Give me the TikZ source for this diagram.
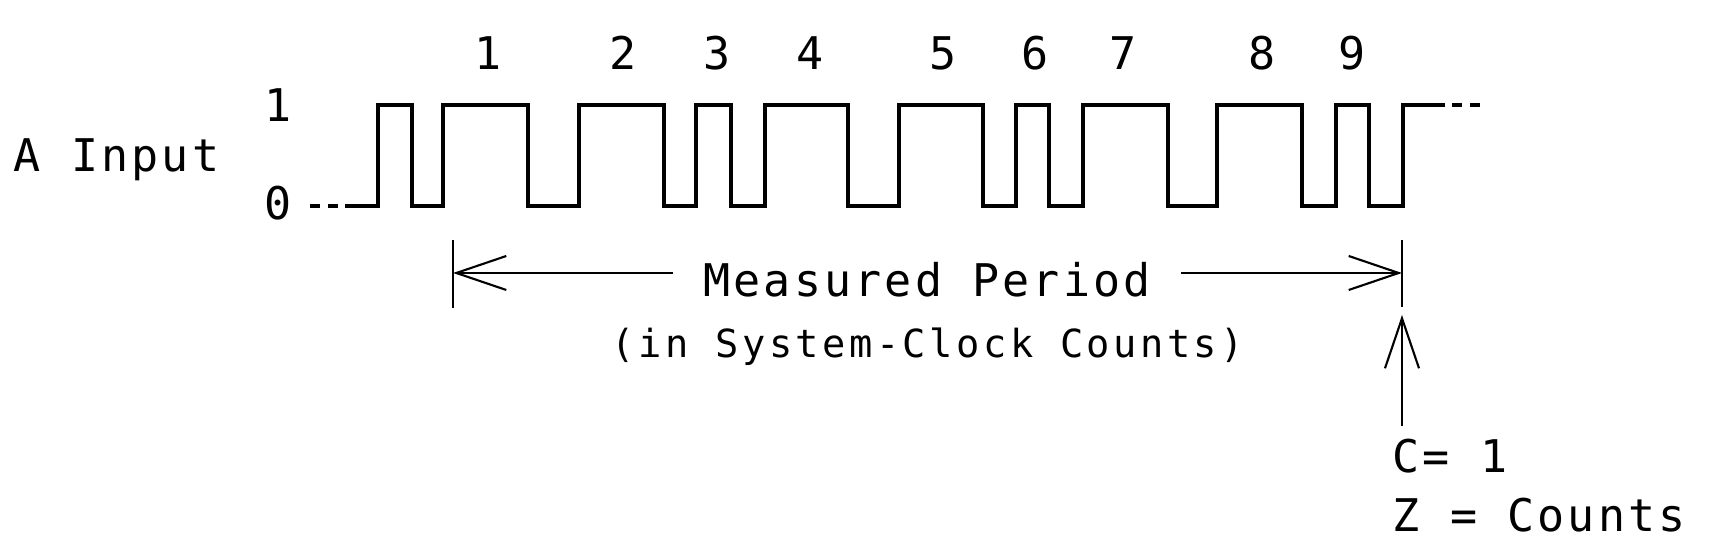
\documentclass[tikz,border=0pt]{standalone}
\usepackage{fontspec}
\newfontfamily\bigfont[LetterSpace=7]{DejaVu Sans Mono}
\newfontfamily\smallfont[LetterSpace=9]{DejaVu Sans Mono}
\usetikzlibrary{arrows.meta}

\begin{document}
\begin{tikzpicture}[x=0.01cm,y=-0.01cm,
  wave/.style={line width=0.9pt},
  tail/.style={line width=0.9pt,dash pattern=on 0.1cm off 0.08cm},
  dim/.style={line width=0.6pt},
  dimarrow/.style={dim,-{Straight Barb[length=0.5cm,width=0.34cm]}},
  big/.style={font=\bigfont\fontsize{12.8pt}{15pt}\selectfont,inner sep=0pt},
  small/.style={font=\smallfont\fontsize{11pt}{13pt}\selectfont,inner sep=0pt}]

\useasboundingbox (0,0) rectangle (1711,559);

\node[big,anchor=base west] (ainput) at (13,172) {A Input};
\node[big,anchor=base] (one) at (278,122) {1};
\node[big,anchor=base] (zero) at (278,220) {0};

\draw[tail] (310,206) -- (338,206);
\draw[wave] (345,206)
  foreach \r/\f in {378/412,443/528,579/664,696/731,765/848,899/983,1016/1049,1083/1168,1217/1302,1336/1369}
  { -- (\r,206) -- (\r,105) -- (\f,105) -- (\f,206) }
  -- (1403,206) -- (1403,105) -- (1445,105);
\draw[tail] (1452,105) -- (1480,105);

\foreach \x/\n in {488/1,623/2,717/3,810/4,943/5,1035/6,1123/7,1262/8,1352/9}
  \node[big,anchor=base] (n\n) at (\x,70) {\n};

\coordinate (start) at (453,273);
\coordinate (stop) at (1402,273);
\draw[dim] (start) ++(0,-33) -- ++(0,68);
\draw[dim] (stop) ++(0,-33) -- ++(0,67);

\node[big,anchor=base,inner xsep=0.3cm] (period) at (927,297) {Measured Period};
\draw[dimarrow] (period.west |- start) -- (start);
\draw[dimarrow] (period.east |- stop) -- (stop);
\node[small,anchor=base] (unit) at (928,358) {(in System-Clock Counts)};

\coordinate (tip) at (1402,315);
\coordinate (ctail) at (1402,426);
\draw[dimarrow] (ctail) -- (tip);
\node[big,anchor=base west] (cval) at (1392,473) {C= 1};
\node[big,anchor=base west] (zval) at (1392,532) {Z = Counts};

\end{tikzpicture}
\end{document}
